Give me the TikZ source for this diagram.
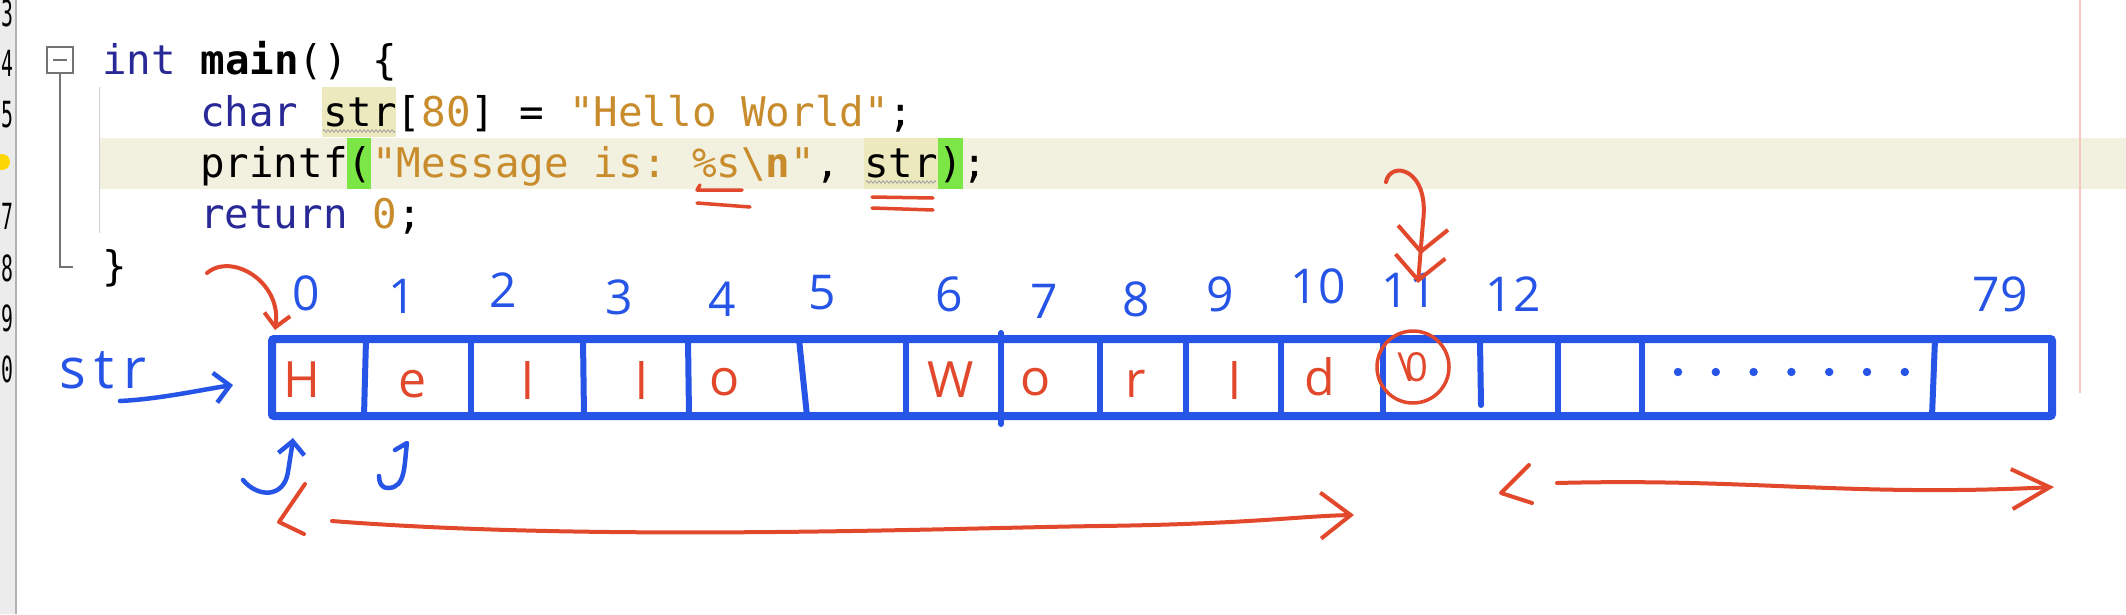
\documentclass[tikz,border=0pt]{standalone}
\usepackage{fontspec}
\setmonofont{DejaVu Sans Mono}
\newfontfamily\handfont{Open Sans}
\usetikzlibrary{arrows.meta,decorations.pathmorphing}
\definecolor{mblue}{RGB}{38,84,230}
\definecolor{mred}{RGB}{226,72,44}
\definecolor{kw}{RGB}{40,40,150}
\definecolor{lit}{RGB}{200,140,45}
\definecolor{band}{RGB}{242,241,224}
\definecolor{tokhl}{RGB}{236,233,190}
\definecolor{brgreen}{RGB}{124,230,70}
\definecolor{gutter}{RGB}{236,236,236}
\newcommand{\codefont}{\ttfamily\fontsize{40.86}{51}\selectfont}
\newcommand{\lnum}[1]{\scalebox{0.55}[1]{#1}}
\tikzset{
  bluepen/.style={draw=mblue, line width=4.5pt, line cap=round, line join=round},
  redpen/.style={draw=mred, line width=4pt, line cap=round, line join=round},
  idx/.style={text=mblue, font=\handfont\fontsize{48}{48}\selectfont, inner sep=0, anchor=base},
  chr/.style={text=mred, font=\handfont\fontsize{50}{50}\selectfont, inner sep=0, anchor=base},
  code/.style={anchor=base west, inner sep=0, font=\codefont},
  lineno/.style={anchor=base east, inner sep=0, font=\ttfamily\fontsize{36}{36}\selectfont},
  wavy/.style={draw=black!35, line width=0.9pt, decorate, decoration={zigzag, amplitude=1.2pt, segment length=4pt}},
  smallhead/.style={-{Straight Barb[length=13pt,width=26pt]}},
}
\begin{document}
\begin{tikzpicture}[x=1pt,y=-1pt]
\useasboundingbox (0,0) rectangle (2126,614);
\fill[white] (0,0) rectangle (2126,614);
% editor gutter
\fill[gutter] (0,0) rectangle (16,614);
\draw[black!30, line width=1.5pt] (16,0) -- (16,614);
\node[lineno] (n3) at (14,26) {\lnum{3}};
\node[lineno] (n4) at (14,76) {\lnum{4}};
\node[lineno] (n5) at (14,127) {\lnum{5}};
\fill[yellow!75!orange] (2,162) circle (8);
\node[lineno] (n7) at (14,229) {\lnum{7}};
\node[lineno] (n8) at (14,281) {\lnum{8}};
\node[lineno] (n9) at (14,331) {\lnum{9}};
\node[lineno] (n10) at (14,382) {\lnum{0}};
% current line band and highlights
\fill[band] (99,138) rectangle (2126,189);
\fill[tokhl] (322,87) rectangle (396,137);
\fill[tokhl] (864,138) rectangle (938,189);
\fill[brgreen] (347,138) rectangle (371,189);
\fill[brgreen] (938,138) rectangle (963,189);
\draw[wavy] (323,131) -- (395,131);
\draw[wavy] (866,182) -- (936,182);
% right margin
\draw[mred!30, line width=1.2pt] (2080,0) -- (2080,393);
% fold marker and guide
\draw[black!18, line width=1pt] (99,87) -- (99,233);
\draw[black!55, line width=1.2pt, fill=white] (47,47) rectangle (73,73);
\draw[black!55, line width=1.2pt] (53,60) -- (67,60);
\draw[black!55, line width=1.2pt] (60,73) -- (60,267) -- (73,267);
% code
\node[code] (ln4) at (102,74) {{\color{kw}int} \textbf{main}() \{};
\node[code] (ln5) at (200,126) {{\color{kw}char} str[{\color{lit}80}] = {\color{lit}"Hello World"};};
\node[code] (ln6) at (200,177) {printf({\color{lit}"Message is: \%s\textbackslash\textbf{n}"}, str);};
\node[code] (ln7) at (200,228) {{\color{kw}return} {\color{lit}0};};
\node[code] (ln8) at (102,280) {\}};
% red underline marks
\draw[redpen, line width=3.5pt] (700,185) -- (697,190) -- (742,190);
\draw[redpen, line width=3.5pt] (697,203) -- (750,207);
\draw[redpen, line width=3.5pt] (872,197) -- (933,198);
\draw[redpen, line width=3.5pt] (872,208) -- (933,210);
% array
\node[draw=mblue, line width=8pt, minimum width=1780pt, minimum height=77pt, inner sep=0, outer sep=0, rounded corners=2pt] (arr) at (1162,377.5) {};
\foreach \xa/\xb in {366/364, 471/471, 583/584, 688/689, 799/807, 906/906, 1100/1100, 1186/1186, 1281/1281, 1383/1383, 1558/1558, 1642/1642, 1935/1932}
  \draw[bluepen, line width=6pt] (\xa,339) -- (\xb,416);
\draw[bluepen, line width=6pt] (1001,333) -- (1001,424);
\draw[bluepen, line width=6pt] (1480,341) -- (1481,405);
\foreach \i in {0,...,6}
  \fill[mblue] (1678+\i*37.8,372) circle (4.2);
% indices
\node[idx] (i0) at (306,310) {0};
\node[idx] (i1) at (402,313) {1};
\node[idx] (i2) at (503,307) {2};
\node[idx] (i3) at (619,314) {3};
\node[idx] (i4) at (722,316) {4};
\node[idx] (i5) at (822,309) {5};
\node[idx] (i6) at (949,311) {6};
\node[idx] (i7) at (1044,318) {7};
\node[idx] (i8) at (1136,316) {8};
\node[idx] (i9) at (1220,311) {9};
\node[idx] (i10) at (1318,303) {10};
\node[idx] (i11) at (1409,307) {11};
\node[idx] (i12) at (1513,311) {12};
\node[idx] (i79) at (2000,311) {79};
% characters
\node[chr] (c0) at (302,397) {H};
\node[chr] (c1) at (413,397) {e};
\node[chr] (c2) at (528,399) {l};
\node[chr] (c3) at (642,399) {l};
\node[chr] (c4) at (725,395) {o};
\node[chr] (c6) at (951,397) {W};
\node[chr] (c7) at (1036,395) {o};
\node[chr] (c8) at (1136,397) {r};
\node[chr] (c9) at (1235,399) {l};
\node[chr] (c10) at (1320,395) {d};
\node[circle, draw=mred, line width=3.5pt, minimum size=72pt, inner sep=0, text=mred, font=\handfont\fontsize{40}{40}\selectfont] (c11) at (1413,367) {\textbackslash\kern-6pt0};
% str label and pointer
\node[anchor=base west, inner sep=0, text=mblue, font=\handfont\fontsize{56}{56}\selectfont] (strlbl) at (59,388) {s\kern9pt t\kern9pt r};
\coordinate (strTail) at (120,401);
\coordinate (strTip) at (233,385);
\draw[bluepen, -{Straight Barb[length=15pt,width=30pt]}] (strTail) .. controls (160,399) and (200,390) .. (strTip);
% red arrow to cell 0
\coordinate (r1s) at (207,273);
\coordinate (r1e) at (275,330);
\draw[redpen, smallhead] (r1s) .. controls (232,252) and (282,282) .. (r1e);
% red arrow to index 11
\coordinate (r2s) at (1386,182);
\coordinate (r2e) at (1418,283);
\draw[redpen, -{Straight Barb[length=24pt,width=50pt] Straight Barb[length=24pt,width=50pt]}] (r2s) .. controls (1390,160) and (1430,168) .. (1423,222) .. controls (1421,250) .. (r2e);
% blue hooks under cells 0 and 1
\coordinate (b1s) at (243,480);
\coordinate (b1e) at (293,438);
\draw[bluepen, smallhead] (b1s) .. controls (258,498) and (284,498) .. (288,472) .. controls (291,458) .. (b1e);
\coordinate (b2s) at (395,450);
\coordinate (b2e) at (379,476);
\draw[bluepen] (b2s) -- (407,443) .. controls (404,465) and (406,488) .. (388,488) .. controls (381,488) and (379,482) .. (b2e);
% red range arrows
\coordinate (lt) at (279,522);
\draw[redpen] (305,484) -- (lt) -- (304,534);
\coordinate (la1) at (332,521);
\coordinate (la2) at (1354,515);
\draw[redpen, -{Straight Barb[length=30pt,width=46pt]}] (la1) .. controls (600,542) and (950,528) .. (1100,526) .. controls (1250,524) and (1300,516) .. (la2);
\coordinate (rt) at (1501,493);
\draw[redpen] (1529,465) -- (rt) -- (1532,503);
\coordinate (ra1) at (1557,483);
\coordinate (ra2) at (2054,487);
\draw[redpen, -{Straight Barb[length=38pt,width=40pt]}] (ra1) .. controls (1750,478) and (1850,497) .. (ra2);
\end{tikzpicture}
\end{document}
